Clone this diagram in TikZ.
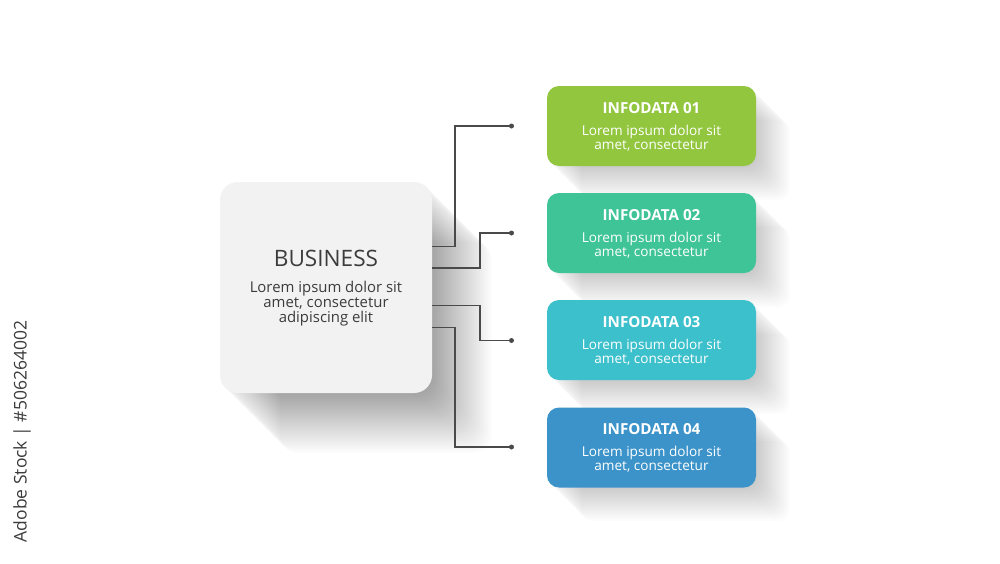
\documentclass[tikz,border=0pt]{standalone}
\usepackage{fontspec}
\setmainfont{Open Sans}
\usetikzlibrary{calc}
\definecolor{cA}{HTML}{92C63E}
\definecolor{cB}{HTML}{3EC496}
\definecolor{cC}{HTML}{3CC0CC}
\definecolor{cD}{HTML}{3B93CA}
\definecolor{sqfill}{HTML}{F2F2F2}
\definecolor{sqtext}{HTML}{3C3C3C}
\definecolor{linec}{HTML}{4A4A4A}
\begin{document}
\begin{tikzpicture}[x=1pt,y=-1pt,
  bizbox/.style={draw=none, fill=sqfill, rounded corners=18pt, minimum width=212pt, minimum height=211pt, inner sep=0pt},
  infobox/.style={draw=none, rounded corners=12pt, minimum width=209pt, minimum height=80pt, inner sep=0pt},
  ttl/.style={font=\bfseries\fontsize{15.2}{17}\selectfont, text=white, inner sep=0pt},
  body/.style={font=\fontsize{13.6}{14}\selectfont, text=white, align=center, inner sep=0pt},
  conn/.style={draw=linec, line width=1.2pt},
  dotn/.style={circle, fill=linec, minimum size=5pt, inner sep=0pt},
]
\useasboundingbox[fill=white] (0,0) rectangle (1000,563);

% long shadow of the central square
\foreach \k in {2,4,...,60}{
  \fill[black, opacity=0.012, rounded corners=18pt] (220+\k,182+\k) rectangle (432+\k,393+\k);
}
% shadows of the info boxes
\foreach \yy in {86,193,300,407}{
  \foreach \k in {2,4,...,34}{
    \fill[black, opacity=0.012, rounded corners=12pt] (547+\k,\yy+\k) rectangle (756+\k,\yy+80+\k);
  }
}

% central square
\node[bizbox] (biz) at (326,287.5) {};
\node[font=\fontsize{22.6}{26}\selectfont, text=sqtext, inner sep=0pt] (bizt) at ($(biz.center)+(0,-29.5)$) {BUSINESS};
\node[font=\fontsize{14.9}{15}\selectfont, text=sqtext, align=center, inner sep=0pt] (bizb) at ($(biz.center)+(0,16)$) {Lorem ipsum dolor sit\\amet, consectetur\\adipiscing elit};

% info boxes
\node[infobox, fill=cA] (b1) at (651.5,126) {};
\node[infobox, fill=cB] (b2) at (651.5,233) {};
\node[infobox, fill=cC] (b3) at (651.5,340) {};
\node[infobox, fill=cD] (b4) at (651.5,447.5) {};
\foreach \b/\n in {b1/01,b2/02,b3/03,b4/04}{
  \node[ttl] (\b t) at ($(\b.center)+(0,-18)$) {INFODATA \n};
  \node[body] (\b b) at ($(\b.center)+(0,12)$) {Lorem ipsum dolor sit\\amet, consectetur};
}

% connector start points on the square
\coordinate (s1) at (432,246.5);
\coordinate (s2) at (432,268);
\coordinate (s3) at (432,305.5);
\coordinate (s4) at (432,327.5);
% dots
\node[dotn] (d1) at (511.5,126) {};
\node[dotn] (d2) at (511.5,233) {};
\node[dotn] (d3) at (511.5,340.5) {};
\node[dotn] (d4) at (511.5,447) {};

\draw[conn] (s1) -- ++(23,0) |- (d1.center);
\draw[conn] (s2) -- ++(48,0) |- (d2.center);
\draw[conn] (s3) -- ++(48,0) |- (d3.center);
\draw[conn] (s4) -- ++(23,0) |- (d4.center);

% vertical credit text
\node[rotate=90, font=\fontsize{17.5}{19}\selectfont, text=sqtext, inner sep=0pt] (wm) at (22,431.5) {Adobe Stock | \#506264002};
\end{tikzpicture}
\end{document}
